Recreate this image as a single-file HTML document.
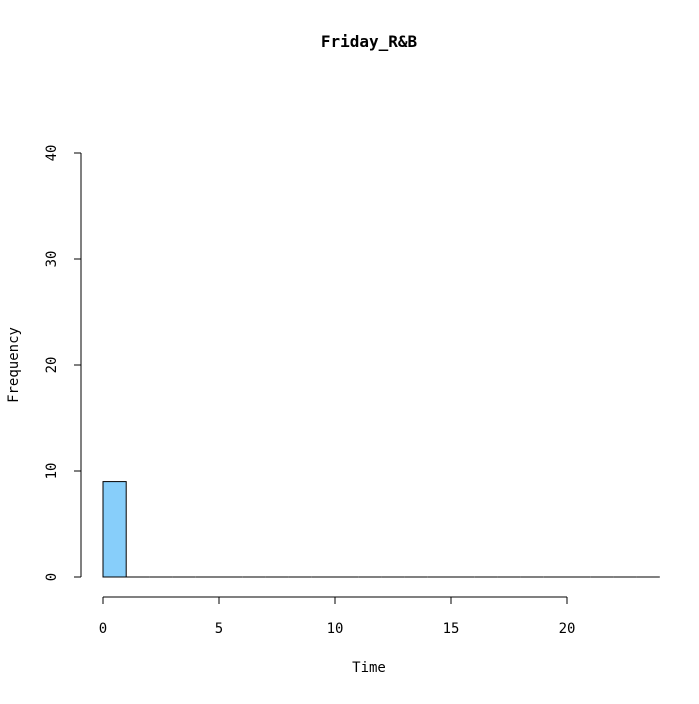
<!DOCTYPE html>
<html><head><meta charset="utf-8"><style>
html,body{margin:0;padding:0;background:#fff}
text{font-family:"DejaVu Sans Mono","Liberation Mono",monospace;fill:#000}
</style></head><body>
<svg id="chart" width="699" height="699" viewBox="0 0 699 699" xmlns="http://www.w3.org/2000/svg">
<text x="369" y="47" text-anchor="middle" font-size="16" font-weight="bold">Friday_R&amp;B</text>
<text x="369" y="672" text-anchor="middle" font-size="14">Time</text>
<text transform="translate(18,365) rotate(-90)" text-anchor="middle" font-size="14">Frequency</text>
<g id="bars"></g>
<g id="xaxis"></g>
<g id="yaxis"></g>
</svg>
<script>
const binStarts = [0,1,2,3,4,5,6,7,8,9,10,11,12,13,14,15,16,17,18,19,20,21,22,23];
const counts = [9,0,0,0,0,0,0,0,0,0,0,0,0,0,0,0,0,0,0,0,0,0,0,0];
const xTicks = [0,5,10,15,20];
const yTicks = [0,10,20,30,40];
const binWidth = 1;
const NS = "http://www.w3.org/2000/svg";
const sx = v => 103 + v * 23.2;
const sy = v => 577 - v * 10.6;
function mk(tag, attrs, parent){const e=document.createElementNS(NS,tag);for(const k in attrs)e.setAttribute(k,attrs[k]);parent.appendChild(e);return e;}
const bars=document.getElementById('bars');
binStarts.forEach((b,i)=>{
  let r;
  if(counts[i]>0){
    r=mk('rect',{x:sx(b),y:sy(counts[i]),width:sx(b+binWidth)-sx(b),height:sy(0)-sy(counts[i]),fill:'#87cefa',stroke:'#000','stroke-width':1},bars);
  } else {
    r=mk('line',{x1:sx(b),x2:sx(b+binWidth),y1:sy(0),y2:sy(0),stroke:'#000','stroke-width':1},bars);
  }
  
  
});
const xa=document.getElementById('xaxis');
mk('line',{x1:sx(xTicks[0]),x2:sx(xTicks[xTicks.length-1]),y1:597,y2:597,stroke:'#000'},xa);
xTicks.forEach(t=>{
  mk('line',{x1:sx(t),x2:sx(t),y1:597,y2:604,stroke:'#000'},xa);
  const tx=mk('text',{x:sx(t),y:633,'text-anchor':'middle','font-size':14},xa);
  tx.textContent=t;
  
  
});
const ya=document.getElementById('yaxis');
mk('line',{x1:81,x2:81,y1:sy(yTicks[0]),y2:sy(yTicks[yTicks.length-1]),stroke:'#000'},ya);
yTicks.forEach(t=>{
  mk('line',{x1:74,x2:81,y1:sy(t),y2:sy(t),stroke:'#000'},ya);
  const tx=mk('text',{transform:`translate(56,${sy(t)}) rotate(-90)`,'text-anchor':'middle','font-size':14},ya);
  tx.textContent=t;
  
  
});
</script>
</body></html>
